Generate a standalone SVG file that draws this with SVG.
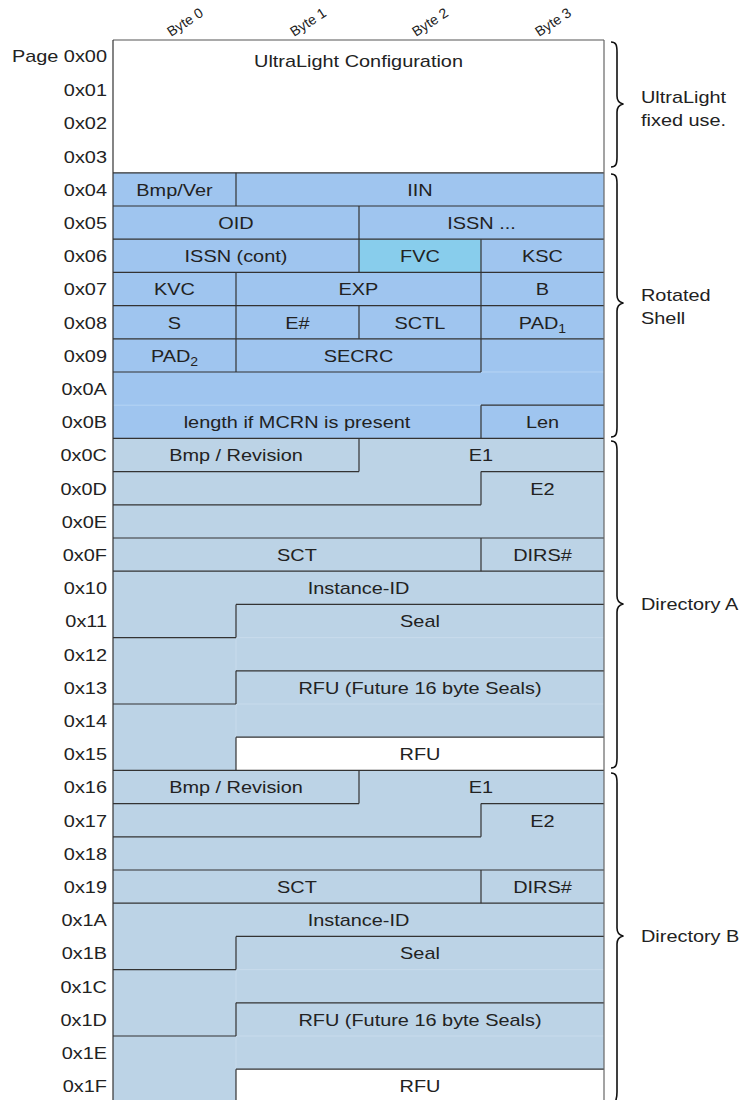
<svg xmlns="http://www.w3.org/2000/svg" width="746" height="1100" viewBox="0 0 746 1100">
<style>
  text { font-family: "Liberation Sans", Arial, sans-serif; fill: #222; }
  .t { font-size: 17px; text-anchor: middle; transform-box: fill-box; transform-origin: 50% 50%; transform: scaleX(1.17); }
  .lbl { font-size: 17px; text-anchor: end; transform-box: fill-box; transform-origin: 100% 50%; transform: scaleX(1.17); }
  .side { font-size: 17px; text-anchor: start; transform-box: fill-box; transform-origin: 0% 50%; transform: scaleX(1.17); }
  .hdr { font-size: 14px; text-anchor: start; }
  .ln { stroke: #333; stroke-width: 1.2; fill: none; }
  .seam { stroke-width: 1; fill: none; }
  .brace { stroke: #111; stroke-width: 1.6; fill: none; stroke-linejoin: round; }
  .rot { fill: #9fc5ef; }
  .fvc { fill: #88cdec; }
  .dir { fill: #bcd3e6; }
  .wht { fill: #ffffff; }
</style>

<!-- header -->
<g id="header">
  <text class="hdr" x="171" y="37" transform="rotate(-33 171 37)">Byte 0</text>
  <text class="hdr" x="294" y="37" transform="rotate(-33 294 37)">Byte 1</text>
  <text class="hdr" x="416" y="37" transform="rotate(-33 416 37)">Byte 2</text>
  <text class="hdr" x="539" y="37" transform="rotate(-33 539 37)">Byte 3</text>
</g>

<!-- backgrounds -->
<g id="backgrounds">
  <rect class="wht" x="113" y="40" width="491" height="132.8"/>
  <rect class="rot" x="113" y="172.8" width="491" height="265.6"/>
  <rect class="fvc" x="359" y="239.2" width="122" height="33.2"/>
  <rect class="dir" x="113" y="438.4" width="491" height="664"/>
  <rect class="wht" x="236" y="737.2" width="368" height="33.2"/>
  <rect class="wht" x="236" y="1069.2" width="368" height="33.2"/>
</g>

<!-- row labels -->
<g id="row-labels">
  <text class="lbl" x="107" y="62">Page 0x00</text>
  <text class="lbl" x="107" y="96.2">0x01</text>
  <text class="lbl" x="107" y="129.4">0x02</text>
  <text class="lbl" x="107" y="162.6">0x03</text>
  <text class="lbl" x="107" y="195.8">0x04</text>
  <text class="lbl" x="107" y="229">0x05</text>
  <text class="lbl" x="107" y="262.2">0x06</text>
  <text class="lbl" x="107" y="295.4">0x07</text>
  <text class="lbl" x="107" y="328.6">0x08</text>
  <text class="lbl" x="107" y="361.8">0x09</text>
  <text class="lbl" x="107" y="395">0x0A</text>
  <text class="lbl" x="107" y="428.2">0x0B</text>
  <text class="lbl" x="107" y="461.4">0x0C</text>
  <text class="lbl" x="107" y="494.6">0x0D</text>
  <text class="lbl" x="107" y="527.8">0x0E</text>
  <text class="lbl" x="107" y="561">0x0F</text>
  <text class="lbl" x="107" y="594.2">0x10</text>
  <text class="lbl" x="107" y="627.4">0x11</text>
  <text class="lbl" x="107" y="660.6">0x12</text>
  <text class="lbl" x="107" y="693.8">0x13</text>
  <text class="lbl" x="107" y="727">0x14</text>
  <text class="lbl" x="107" y="760.2">0x15</text>
  <text class="lbl" x="107" y="793.4">0x16</text>
  <text class="lbl" x="107" y="826.6">0x17</text>
  <text class="lbl" x="107" y="859.8">0x18</text>
  <text class="lbl" x="107" y="893">0x19</text>
  <text class="lbl" x="107" y="926.2">0x1A</text>
  <text class="lbl" x="107" y="959.4">0x1B</text>
  <text class="lbl" x="107" y="992.6">0x1C</text>
  <text class="lbl" x="107" y="1025.8">0x1D</text>
  <text class="lbl" x="107" y="1059">0x1E</text>
  <text class="lbl" x="107" y="1092.2">0x1F</text>
</g>

<!-- lines (connectors / cell borders) -->
<g id="connectors">
  <!-- faint seams -->
  <g class="seam" stroke="#b6d4f4">
    <line x1="481" y1="372" x2="604" y2="372"/>
    <line x1="113" y1="405.2" x2="481" y2="405.2"/>
  </g>
  <g class="seam" stroke="#c8dbec">
    <line x1="236" y1="637.6" x2="604" y2="637.6"/>
    <line x1="236" y1="637.6" x2="236" y2="670.8"/>
    <line x1="236" y1="704" x2="604" y2="704"/>
    <line x1="236" y1="704" x2="236" y2="737.2"/>
    <line x1="236" y1="969.6" x2="604" y2="969.6"/>
    <line x1="236" y1="969.6" x2="236" y2="1002.8"/>
    <line x1="236" y1="1036" x2="604" y2="1036"/>
    <line x1="236" y1="1036" x2="236" y2="1069.2"/>
  </g>
  <g class="ln">
    <!-- rotated shell -->
    <line x1="113" y1="172.8" x2="604" y2="172.8"/>
    <line x1="236" y1="172.8" x2="236" y2="206"/>
    <line x1="113" y1="206" x2="604" y2="206"/>
    <line x1="359" y1="206" x2="359" y2="239.2"/>
    <line x1="113" y1="239.2" x2="604" y2="239.2"/>
    <line x1="359" y1="239.2" x2="359" y2="272.4"/>
    <line x1="481" y1="239.2" x2="481" y2="272.4"/>
    <line x1="113" y1="272.4" x2="604" y2="272.4"/>
    <line x1="236" y1="272.4" x2="236" y2="305.6"/>
    <line x1="481" y1="272.4" x2="481" y2="305.6"/>
    <line x1="113" y1="305.6" x2="604" y2="305.6"/>
    <line x1="236" y1="305.6" x2="236" y2="338.8"/>
    <line x1="359" y1="305.6" x2="359" y2="338.8"/>
    <line x1="481" y1="305.6" x2="481" y2="338.8"/>
    <line x1="113" y1="338.8" x2="604" y2="338.8"/>
    <line x1="236" y1="338.8" x2="236" y2="372"/>
    <line x1="481" y1="338.8" x2="481" y2="372"/>
    <line x1="113" y1="372" x2="481" y2="372"/>
    <line x1="481" y1="405.2" x2="604" y2="405.2"/>
    <line x1="481" y1="405.2" x2="481" y2="438.4"/>
    <!-- directory A -->
    <line x1="113" y1="438.4" x2="604" y2="438.4"/>
    <line x1="359" y1="438.4" x2="359" y2="471.6"/>
    <line x1="113" y1="471.6" x2="359" y2="471.6"/>
    <line x1="481" y1="471.6" x2="604" y2="471.6"/>
    <line x1="481" y1="471.6" x2="481" y2="504.8"/>
    <line x1="113" y1="504.8" x2="481" y2="504.8"/>
    <line x1="113" y1="538" x2="604" y2="538"/>
    <line x1="481" y1="538" x2="481" y2="571.2"/>
    <line x1="113" y1="571.2" x2="604" y2="571.2"/>
    <line x1="236" y1="604.4" x2="604" y2="604.4"/>
    <line x1="236" y1="604.4" x2="236" y2="637.6"/>
    <line x1="113" y1="637.6" x2="236" y2="637.6"/>
    <line x1="236" y1="670.8" x2="604" y2="670.8"/>
    <line x1="236" y1="670.8" x2="236" y2="704"/>
    <line x1="113" y1="704" x2="236" y2="704"/>
    <line x1="236" y1="737.2" x2="604" y2="737.2"/>
    <line x1="236" y1="737.2" x2="236" y2="770.4"/>
    <!-- directory B -->
    <line x1="113" y1="770.4" x2="604" y2="770.4"/>
    <line x1="359" y1="770.4" x2="359" y2="803.6"/>
    <line x1="113" y1="803.6" x2="359" y2="803.6"/>
    <line x1="481" y1="803.6" x2="604" y2="803.6"/>
    <line x1="481" y1="803.6" x2="481" y2="836.8"/>
    <line x1="113" y1="836.8" x2="481" y2="836.8"/>
    <line x1="113" y1="870" x2="604" y2="870"/>
    <line x1="481" y1="870" x2="481" y2="903.2"/>
    <line x1="113" y1="903.2" x2="604" y2="903.2"/>
    <line x1="236" y1="936.4" x2="604" y2="936.4"/>
    <line x1="236" y1="936.4" x2="236" y2="969.6"/>
    <line x1="113" y1="969.6" x2="236" y2="969.6"/>
    <line x1="236" y1="1002.8" x2="604" y2="1002.8"/>
    <line x1="236" y1="1002.8" x2="236" y2="1036"/>
    <line x1="113" y1="1036" x2="236" y2="1036"/>
    <line x1="236" y1="1069.2" x2="604" y2="1069.2"/>
    <line x1="236" y1="1069.2" x2="236" y2="1102.4"/>
  </g>
  <!-- outer border -->
  <line x1="113" y1="40" x2="604" y2="40" stroke="#555" stroke-width="1.2"/>
  <line x1="113" y1="40" x2="113" y2="1102" stroke="#333" stroke-width="1.2"/>
  <line x1="604" y1="40" x2="604" y2="1102" stroke="#666" stroke-width="1.2"/>
</g>

<!-- section: UltraLight -->
<g id="ultralight-config">
  <text class="t" x="358.5" y="67">UltraLight Configuration</text>
</g>

<!-- section: Rotated shell -->
<g id="rotated-shell">
  <g id="bmp-ver"><text class="t" x="174.5" y="195.8">Bmp/Ver</text></g>
  <g id="iin"><text class="t" x="420" y="195.8">IIN</text></g>
  <g id="oid"><text class="t" x="236" y="229">OID</text></g>
  <g id="issn"><text class="t" x="481.5" y="229">ISSN ...</text></g>
  <g id="issn-cont"><text class="t" x="236" y="262.2">ISSN (cont)</text></g>
  <g id="fvc"><text class="t" x="420" y="262.2">FVC</text></g>
  <g id="ksc"><text class="t" x="542.5" y="262.2">KSC</text></g>
  <g id="kvc"><text class="t" x="174.5" y="295.4">KVC</text></g>
  <g id="exp"><text class="t" x="358.5" y="295.4">EXP</text></g>
  <g id="b"><text class="t" x="542.5" y="295.4">B</text></g>
  <g id="s"><text class="t" x="174.5" y="328.6">S</text></g>
  <g id="e-num"><text class="t" x="297.5" y="328.6">E#</text></g>
  <g id="sctl"><text class="t" x="420" y="328.6">SCTL</text></g>
  <g id="pad1"><text class="t" x="542.5" y="328.6">PAD<tspan font-size="12" dy="4">1</tspan></text></g>
  <g id="pad2"><text class="t" x="174.5" y="361.8">PAD<tspan font-size="12" dy="4">2</tspan></text></g>
  <g id="secrc"><text class="t" x="358.5" y="361.8">SECRC</text></g>
  <g id="mcrn"><text class="t" x="297" y="428.2">length if MCRN is present</text></g>
  <g id="len"><text class="t" x="542.5" y="428.2">Len</text></g>
</g>

<!-- section: Directory A -->
<g id="directory-a">
  <g id="a-bmp"><text class="t" x="236" y="461.4">Bmp / Revision</text></g>
  <g id="a-e1"><text class="t" x="481" y="461.4">E1</text></g>
  <g id="a-e2"><text class="t" x="542.5" y="494.6">E2</text></g>
  <g id="a-sct"><text class="t" x="297" y="561">SCT</text></g>
  <g id="a-dirs"><text class="t" x="542.5" y="561">DIRS#</text></g>
  <g id="a-instance"><text class="t" x="358.5" y="594.2">Instance-ID</text></g>
  <g id="a-seal"><text class="t" x="420" y="627.4">Seal</text></g>
  <g id="a-rfu16"><text class="t" x="420" y="693.8">RFU (Future 16 byte Seals)</text></g>
  <g id="a-rfu"><text class="t" x="420" y="760.2">RFU</text></g>
</g>

<!-- section: Directory B -->
<g id="directory-b">
  <g id="b-bmp"><text class="t" x="236" y="793.4">Bmp / Revision</text></g>
  <g id="b-e1"><text class="t" x="481" y="793.4">E1</text></g>
  <g id="b-e2"><text class="t" x="542.5" y="826.6">E2</text></g>
  <g id="b-sct"><text class="t" x="297" y="893">SCT</text></g>
  <g id="b-dirs"><text class="t" x="542.5" y="893">DIRS#</text></g>
  <g id="b-instance"><text class="t" x="358.5" y="926.2">Instance-ID</text></g>
  <g id="b-seal"><text class="t" x="420" y="959.4">Seal</text></g>
  <g id="b-rfu16"><text class="t" x="420" y="1025.8">RFU (Future 16 byte Seals)</text></g>
  <g id="b-rfu"><text class="t" x="420" y="1092.2">RFU</text></g>
</g>

<!-- braces and side labels -->
<g id="brace-ultralight">
  <path class="brace" d="M611,42 C616,42 617,45 617,52 L617,96 C617,101 619,103 623,104 C619,105 617,107 617,112 L617,157 C617,164 616,167 611,167"/>
  <text class="side" x="641" y="103">UltraLight</text>
  <text class="side" x="641" y="126">fixed use.</text>
</g>
<g id="brace-rotated">
  <path class="brace" d="M611,174 C616,174 617,177 617,184 L617,295 C617,300 619,302 623,303 C619,304 617,306 617,311 L617,427 C617,434 616,437 611,437"/>
  <text class="side" x="641" y="301">Rotated</text>
  <text class="side" x="641" y="324">Shell</text>
</g>
<g id="brace-dir-a">
  <path class="brace" d="M611,441 C616,441 617,444 617,451 L617,596 C617,601 619,603 623,604 C619,605 617,607 617,612 L617,758 C617,765 616,768 611,768"/>
  <text class="side" x="641" y="610">Directory A</text>
</g>
<g id="brace-dir-b">
  <path class="brace" d="M611,773 C616,773 617,776 617,783 L617,928 C617,933 619,935 623,936 C619,937 617,939 617,944 L617,1092 C617,1099 616,1104 611,1106"/>
  <text class="side" x="641" y="942">Directory B</text>
</g>
</svg>
